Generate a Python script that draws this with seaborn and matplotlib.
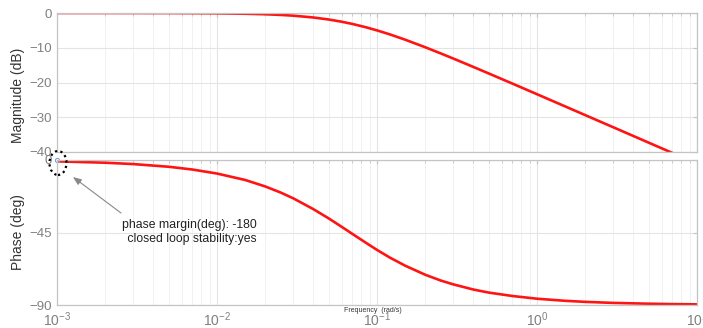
import numpy as np
import pandas as pd
import matplotlib
matplotlib.use("Agg")
import matplotlib.pyplot as plt
import seaborn as sns
from matplotlib.patches import Ellipse
from matplotlib.transforms import IdentityTransform

# values
freq = [0.001, 0.002, 0.003, 0.005, 0.007, 0.01, 0.015, 0.02, 0.025, 0.03, 0.04,
        0.05, 0.06, 0.07, 0.085, 0.1, 0.12, 0.15, 0.2, 0.25, 0.3, 0.4, 0.5, 0.7,
        1, 1.5, 2, 3, 5, 6.8, 10]
magnitude_db = [0.0, 0.0, -0.01, -0.02, -0.05, -0.09, -0.21, -0.36, -0.55, -0.77, -1.29,
                -1.88, -2.50, -3.14, -4.09, -5.0, -6.14, -7.68, -9.85, -11.62, -13.11, -15.52, -17.41, -20.29,
                -23.37, -26.88, -29.38, -32.89, -37.33, -40.0, -43.4]
phase_deg = [-0.84, -1.68, -2.53, -4.2, -5.9, -8.4, -12.4, -16.4, -20.2, -23.8, -30.5,
             -36.3, -41.4, -45.8, -51.3, -55.8, -60.5, -65.6, -71.2, -74.8, -77.2, -80.4, -82.3, -84.4,
             -86.1, -87.4, -88.05, -88.7, -89.2, -89.43, -89.6]
mag_ticks = [0, -10, -20, -30, -40]
phase_ticks = [0, -45, -90]
annotation = "phase margin(deg): -180\n closed loop stability:yes"

df = pd.DataFrame({"freq": freq, "mag": magnitude_db, "phase": phase_deg})

sns.set_style("white")
plt.rcParams["font.family"] = ["Liberation Sans", "DejaVu Sans"]

W, H = 703, 328
fig = plt.figure(figsize=(W / 100, H / 100), dpi=100)
ax1 = fig.add_axes([57 / W, 1 - 152 / H, 640 / W, 139 / H])
ax2 = fig.add_axes([57 / W, 1 - 305 / H, 640 / W, 145 / H])

red = "#ff1414"
sns.lineplot(data=df, x="freq", y="mag", ax=ax1, color=red, lw=1.9)
sns.lineplot(data=df, x="freq", y="phase", ax=ax2, color=red, lw=1.9)

spine_c = "#c4c4c4"
tick_c = "#808080"
for ax in (ax1, ax2):
    ax.set_xscale("log")
    ax.set_xlim(1e-3, 10)
    ax.grid(True, which="major", color="#e4e4e4", lw=0.8)
    ax.grid(True, which="minor", axis="x", color="#efefef", lw=0.6)
    ax.tick_params(which="both", direction="in", top=True, right=True,
                   color=spine_c, labelcolor=tick_c, labelsize=9.5)
    ax.tick_params(which="major", length=3)
    ax.tick_params(which="minor", length=2)
    for s in ax.spines.values():
        s.set_color(spine_c)
        s.set_linewidth(0.9)

ax1.set_ylim(-40, 0)
ax1.set_yticks(mag_ticks)
ax1.tick_params(axis="x", which="both", labelbottom=False)
ax1.set_xlabel("")
ax1.set_ylabel("Magnitude (dB)", fontsize=10, color="#333333")
ax1.yaxis.set_label_coords(-0.05, 0.41)

ax2.set_ylim(-90, 0)
ax2.set_yticks(phase_ticks)
ax2.set_ylabel("Phase (deg)", fontsize=10, color="#333333")
ax2.yaxis.set_label_coords(-0.05, 0.5)
ax2.set_xlabel("Frequency  (rad/s)", fontsize=5, color="#333333")
ax2.xaxis.set_label_coords(0.493, -0.015)
ax2.tick_params(axis="x", labelsize=10, pad=4)

# marker at the phase margin point
ax2.plot([1e-3], [0], marker="o", ms=3, mfc="none", mec="#6fa8dc", mew=0.8, clip_on=False)
ell = Ellipse((58, H - 163), 17, 24, transform=IdentityTransform(), fill=False,
              ls=(0, (1, 1.5)), lw=1.6, ec="black")
fig.add_artist(ell)

fig.text(257 / W, 1 - 232 / H, annotation, ha="right", va="center", multialignment="right",
         fontsize=8.8, color="#222222", linespacing=1.3)
ax2.annotate("", xy=(73, H - 177), xycoords="figure pixels",
             xytext=(121, H - 213), textcoords="figure pixels",
             arrowprops=dict(arrowstyle="-|>,head_length=0.5,head_width=0.2",
                             color="#888888", lw=0.8, shrinkA=0, shrinkB=0))

fig.savefig("out.png", dpi=100)
